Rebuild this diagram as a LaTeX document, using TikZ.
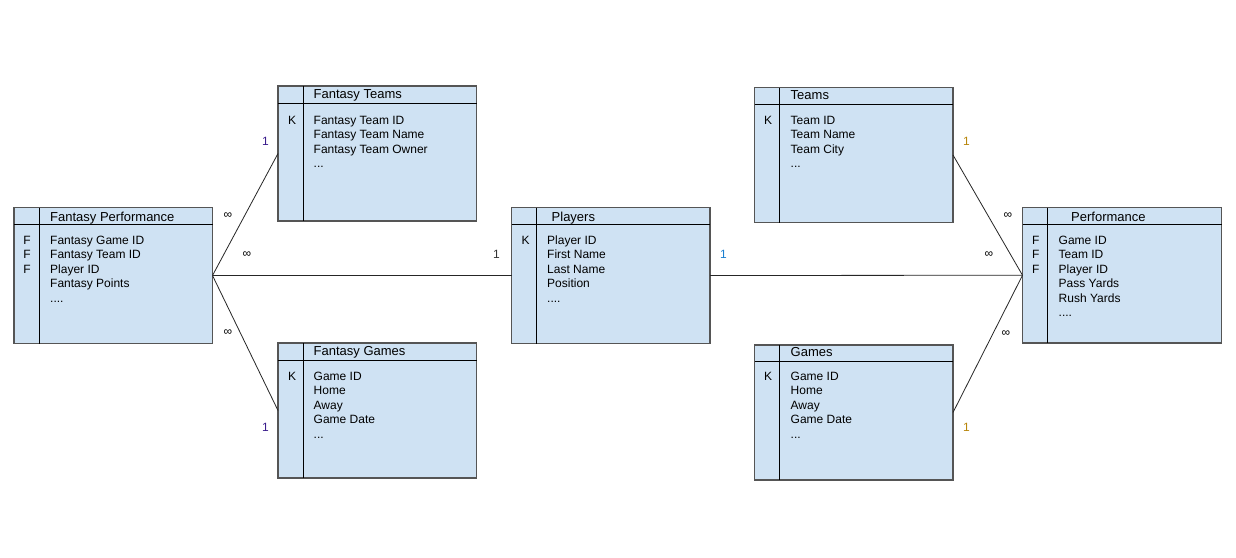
\documentclass[tikz,border=0pt]{standalone}
\usepackage{fontspec}
\setmainfont{Liberation Sans}
\definecolor{tblfill}{HTML}{CFE2F3}
\definecolor{tblborder}{HTML}{555555}
\definecolor{onepurple}{HTML}{3A1C8C}
\definecolor{oneblue}{HTML}{1A7FD0}
\definecolor{oneorange}{HTML}{B8860B}
% trailing placeholder rows
\newcommand\dthree{...}
\newcommand\dfour{....}
\begin{document}
\begin{tikzpicture}[x=1pt,y=-1pt,
  tbl/.style={draw=tblborder, fill=tblfill, line width=1.1pt, inner sep=0pt, outer sep=0pt, anchor=north west},
  divline/.style={draw=black, line width=0.9pt},
  fld/.style={inner sep=0pt, anchor=base west, font=\fontsize{12}{12}\selectfont},
  keyc/.style={inner sep=0pt, anchor=base, font=\fontsize{12}{12}\selectfont},
  ttl/.style={inner sep=0pt, anchor=base west, font=\fontsize{13}{13}\selectfont},
  link/.style={draw=black!85, line width=0.8pt},
  card/.style={inner sep=0pt, font=\fontsize{12}{12}\selectfont},
  many/.style={inner sep=0pt, font=\fontsize{12}{12}\selectfont}]
\useasboundingbox (0,0) rectangle (1236,557);
\fill[white] (0,0) rectangle (1236,557);

% table frame: name, x, y, width, height, header height, key column width
\newcommand\ertable[7]{%
  \node[tbl, minimum width=#4pt, minimum height=#5pt] (#1) at (#2,#3) {};
  \draw[divline] ([yshift=-#6pt]#1.north west) -- ([yshift=-#6pt]#1.north east);
  \draw[divline] ([xshift=#7pt]#1.north west) -- ([xshift=#7pt]#1.south west);
}
% field list: prefix, x, baseline of first row, entries
\newcommand\erfields[4]{%
  \foreach \t [count=\i] in {#4}
    \node[fld] (#1-f\i) at (#2, #3+14.4*\i-14.4) {\t};
}

% Fantasy Performance
\ertable{fp}{14}{207.5}{198.5}{136}{17}{25}
\node[ttl] (fp-t) at (50,221.7) {Fantasy Performance};
\erfields{fp}{50}{244.5}{Fantasy Game ID,Fantasy Team ID,Player ID,Fantasy Points,\dfour}
\foreach \i in {1,2,3} \node[keyc] (fp-k\i) at (27,244.5+14.4*\i-14.4) {F};

% Fantasy Teams
\ertable{ft}{278}{86}{198.5}{135}{17}{25}
\node[ttl] (ft-t) at (313.5,98.5) {Fantasy Teams};
\erfields{ft}{313.5}{124.5}{Fantasy Team ID,Fantasy Team Name,Fantasy Team Owner,\dthree}
\node[keyc] (ft-k) at (292,124.5) {K};

% Fantasy Games
\ertable{fg}{278}{343}{198.5}{135}{17}{25}
\node[ttl] (fg-t) at (313.5,355.5) {Fantasy Games};
\erfields{fg}{313.5}{380.5}{Game ID,Home,Away,Game Date,\dthree}
\node[keyc] (fg-k) at (292,380.5) {K};

% Players
\ertable{pl}{511.5}{207.5}{198.5}{136}{17}{25}
\node[ttl] (pl-t) at (551.5,221.7) {Players};
\erfields{pl}{547}{244.5}{Player ID,First Name,Last Name,Position,\dfour}
\node[keyc] (pl-k) at (525.5,244.5) {K};

% Teams
\ertable{tm}{754.5}{87.5}{198.5}{135}{17}{25}
\node[ttl] (tm-t) at (790.5,99.5) {Teams};
\erfields{tm}{790.5}{124.5}{Team ID,Team Name,Team City,\dthree}
\node[keyc] (tm-k) at (768,124.5) {K};

% Games
\ertable{gm}{754.5}{345}{198.5}{135}{16}{25}
\node[ttl] (gm-t) at (790.5,356.7) {Games};
\erfields{gm}{790.5}{380.5}{Game ID,Home,Away,Game Date,\dthree}
\node[keyc] (gm-k) at (768,380.5) {K};

% Performance
\ertable{pf}{1022.5}{207.5}{199}{135.5}{17}{25}
\node[ttl] (pf-t) at (1071,221.7) {Performance};
\erfields{pf}{1058.5}{244.5}{Game ID,Team ID,Player ID,Pass Yards,Rush Yards,\dfour}
\foreach \i in {1,2,3} \node[keyc] (pf-k\i) at (1035.7,244.5+14.4*\i-14.4) {F};

% relationships
\draw[link] (fp.east) -- (ft.west);
\draw[link] (fp.east) -- (fg.west);
\draw[link] (fp.east) -- (pl.west);
\draw[link] (pl.east) -- (pf.west);
\draw[link] (tm.east) -- (pf.west);
\draw[link] (gm.east) -- (pf.west);

% cardinalities
\node[card, text=onepurple] (c1) at (265.5,141.5) {1};
\node[many] (c2) at (228,216) {∞};
\node[many] (c3) at (247,254.5) {∞};
\node[many] (c4) at (228,332.5) {∞};
\node[card, text=onepurple] (c5) at (265.5,427.5) {1};
\node[card, text=black!80] (c6) at (496.5,254.5) {1};
\node[card, text=oneblue] (c7) at (723.5,254.5) {1};
\node[card, text=oneorange] (c8) at (966.5,141.5) {1};
\node[many] (c9) at (1008,216) {∞};
\node[many] (c10) at (989,254.5) {∞};
\node[many] (c11) at (1006,334) {∞};
\node[card, text=oneorange] (c12) at (966.5,427.5) {1};
\end{tikzpicture}
\end{document}
